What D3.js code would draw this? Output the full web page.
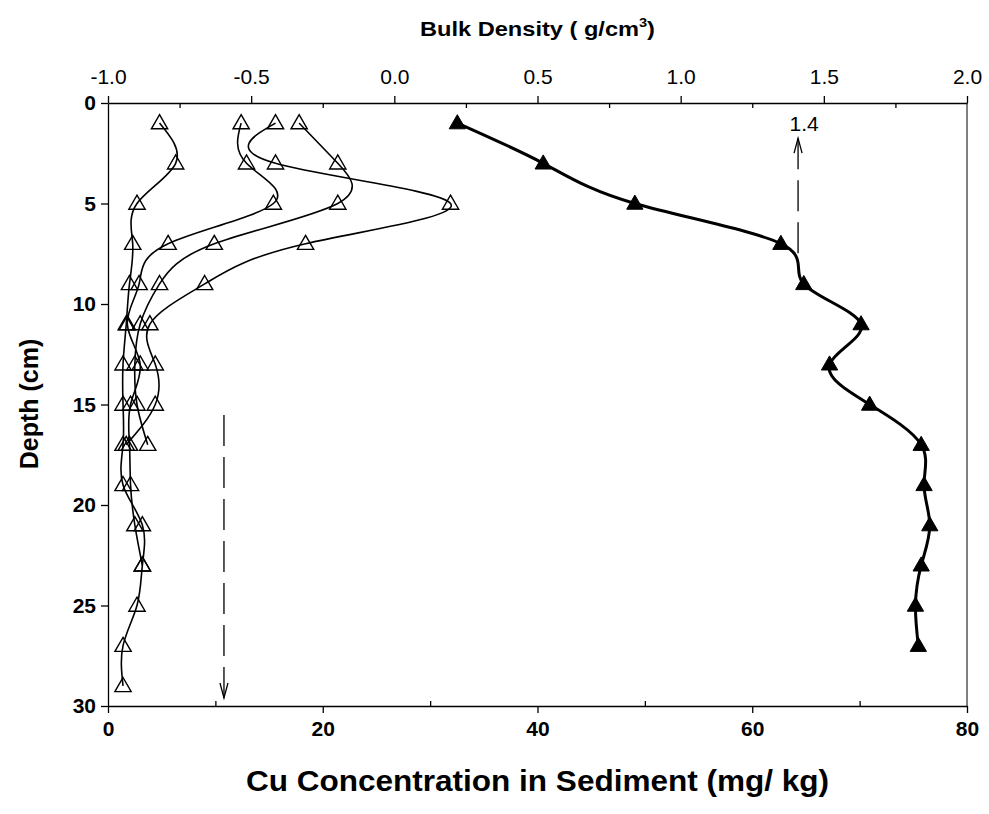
<!DOCTYPE html>
<html>
<head>
<meta charset="utf-8">
<script src="https://cdn.jsdelivr.net/npm/d3@7"></script>
<style>
body { margin: 0; background: #fff; }
text { font-family: Arial, "Liberation Sans", sans-serif; }
</style>
</head>
<body>
<div id="chart"></div>
<script>
// sample depths (cm)
var depths = [1, 3, 5, 7, 9, 11, 13, 15, 17, 19, 21, 23, 25, 27, 29];

// bulk density (g/cm3) - filled triangles, top axis
var bulkDensity = [0.22, 0.52, 0.84, 1.35, 1.43, 1.63, 1.52, 1.66, 1.84, 1.85, 1.87, 1.84, 1.82, 1.83];

// Cu profiles (mg/kg) - open triangles, bottom axis
var cuA = [4.8, 6.3, 2.7, 2.3, 2.0, 1.7, 1.4, 1.4, 1.4, 1.4, 3.2, 3.2, 2.7, 1.4, 1.4];
var cuB = [12.4, 12.9, 15.4, 5.6, 2.9, 1.8, 3.0, 2.1, 2.0, 2.1, 2.5, 3.2];
var cuC = [15.6, 15.6, 31.9, 18.4, 9.0, 3.9, 4.4, 4.4, 1.7];
var cuD = [17.8, 21.4, 21.4, 9.9, 4.8, 3.0, 2.5, 2.7, 3.7];

// tick values
var cuTicks = [0, 20, 40, 60, 80];
var cuMinor = [10, 30, 50, 70];
var bdTicks = [-1.0, -0.5, 0.0, 0.5, 1.0, 1.5, 2.0];
var bdMinor = [-0.75, -0.25, 0.25, 0.75, 1.25, 1.75];
var depthTicks = [0, 5, 10, 15, 20, 25, 30];

// dashed arrows: [value, from depth, to depth]
var cuArrow = [10.8, 15.5, 29.6];
var bdArrow = [1.41, 8.2, 1.75];

var xCu = d3.scaleLinear()
			.domain([0, 80])
			.range([108, 967]);

var xBD = d3.scaleLinear()
			.domain([-1, 2])
			.range([108, 967]);

var yDepth = d3.scaleLinear()
			.domain([0, 30])
			.range([103, 706]);

var svg = d3.select("#chart").append("svg")
			.attr("width", 989)
			.attr("height", 814)
			.style("background", "#fff");

// axes
var bottomAxis = svg.append("g")
			.attr("transform", "translate(0,706)")
			.call(d3.axisBottom(xCu).tickValues(cuTicks).tickSize(7).tickSizeOuter(0).tickPadding(8));
bottomAxis.selectAll("text")
			.style("font-size", "21px")
			.style("font-weight", "bold");

svg.append("g")
			.attr("transform", "translate(0,706)")
			.call(d3.axisBottom(xCu).tickValues(cuMinor).tickSize(-5).tickFormat(""))
			.select(".domain").remove();

var leftAxis = svg.append("g")
			.attr("transform", "translate(108,0)")
			.call(d3.axisLeft(yDepth).tickValues(depthTicks).tickSize(7).tickSizeOuter(0).tickPadding(5));
leftAxis.selectAll("text")
			.style("font-size", "21px")
			.style("font-weight", "bold");

var topAxis = svg.append("g")
			.attr("transform", "translate(0,103)")
			.call(d3.axisTop(xBD).tickValues(bdTicks).tickSize(7).tickSizeOuter(0).tickPadding(12)
				.tickFormat(function(d) {
					return d.toFixed(1);
				}));
topAxis.selectAll("text")
			.style("font-size", "21px");

svg.append("g")
			.attr("transform", "translate(0,103)")
			.call(d3.axisTop(xBD).tickValues(bdMinor).tickSize(-5).tickFormat(""))
			.select(".domain").remove();

svg.append("line")
			.attr("x1", 967)
			.attr("x2", 967)
			.attr("y1", 103)
			.attr("y2", 706)
			.style("stroke", "#000");

svg.selectAll(".domain, .tick line")
			.style("stroke", "#000")
			.style("stroke-width", 1.3);

// titles
var topTitle = svg.append("text")
			.attr("x", 420)
			.attr("y", 36)
			.attr("textLength", 235)
			.attr("lengthAdjust", "spacingAndGlyphs")
			.style("font-size", "21px")
			.style("font-weight", "bold");
topTitle.append("tspan").text("Bulk Density ( g/cm");
topTitle.append("tspan").attr("dy", -9).style("font-size", "13px").text("3");
topTitle.append("tspan").attr("dy", 9).text(")");

svg.append("text")
			.attr("x", 246)
			.attr("y", 791)
			.attr("textLength", 583)
			.attr("lengthAdjust", "spacingAndGlyphs")
			.style("font-size", "29px")
			.style("font-weight", "bold")
			.text("Cu Concentration in Sediment (mg/ kg)");

svg.append("text")
			.attr("transform", "translate(38,404) rotate(-90)")
			.attr("text-anchor", "middle")
			.style("font-size", "25px")
			.style("font-weight", "bold")
			.text("Depth (cm)");

// Cu profiles
var cuLine = d3.line()
			.x(function(d) { return xCu(d.v); })
			.y(function(d) { return yDepth(d.depth); })
			.curve(d3.curveNatural);

var triangle = d3.symbol().type(d3.symbolTriangle).size(115);

[cuA, cuB, cuC, cuD].forEach(function(series) {
	var pts = series.map(function(v, i) {
		return {depth: depths[i], v: v};
	});
	svg.append("path")
		.datum(pts)
		.attr("d", cuLine)
		.style("fill", "none")
		.style("stroke", "#000")
		.style("stroke-width", 1.6);
	svg.selectAll(null)
		.data(pts)
		.enter().append("path")
			.attr("d", triangle)
			.attr("transform", function(d) {
				return "translate(" + xCu(d.v) + "," + (yDepth(d.depth) + 1) + ")";
			})
			.style("fill", "none")
			.style("stroke", "#000")
			.style("stroke-width", 1.4);
});

// bulk density profile
var bdPts = bulkDensity.map(function(v, i) {
	return {depth: depths[i], v: v};
});

var bdLine = d3.line()
			.x(function(d) { return xBD(d.v); })
			.y(function(d) { return yDepth(d.depth); })
			.curve(d3.curveNatural);

svg.append("path")
			.datum(bdPts)
			.attr("d", bdLine)
			.style("fill", "none")
			.style("stroke", "#000")
			.style("stroke-width", 3);

svg.selectAll(null)
			.data(bdPts)
			.enter().append("path")
				.attr("d", triangle)
				.attr("transform", function(d) {
					return "translate(" + xBD(d.v) + "," + (yDepth(d.depth) + 1) + ")";
				})
				.style("fill", "#000")
				.style("stroke", "#000")
				.style("stroke-width", 1);

// dashed arrows
function arrow(x, yFrom, yTo) {
	var dir = yTo > yFrom ? 1 : -1;
	svg.append("line")
		.attr("x1", x)
		.attr("x2", x)
		.attr("y1", yTo)
		.attr("y2", yFrom)
		.style("stroke", "#000")
		.style("stroke-width", 1.3)
		.style("stroke-dasharray", "31,11");
	svg.append("path")
		.attr("d", "M" + (x - 4) + "," + (yTo - dir * 15) + "L" + x + "," + yTo + "L" + (x + 4) + "," + (yTo - dir * 15))
		.style("fill", "none")
		.style("stroke", "#000")
		.style("stroke-width", 1.3);
}

arrow(xCu(cuArrow[0]), yDepth(cuArrow[1]), yDepth(cuArrow[2]));
arrow(xBD(bdArrow[0]), yDepth(bdArrow[1]), yDepth(bdArrow[2]));

svg.append("text")
			.attr("x", xBD(bdArrow[0]) + 6)
			.attr("y", 131)
			.attr("text-anchor", "middle")
			.style("font-size", "21px")
			.text("1.4");
</script>
</body>
</html>
